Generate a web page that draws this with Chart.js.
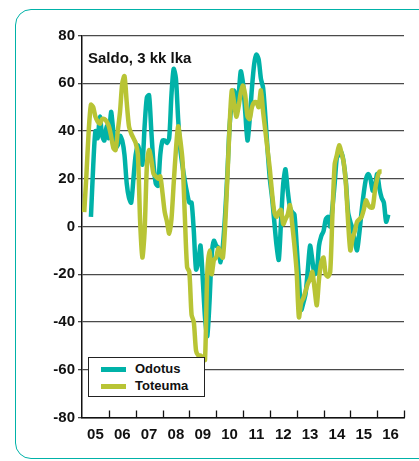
<!DOCTYPE html>
<html lang="fi">
<head>
<meta charset="UTF-8">
<title>Saldo, 3 kk lka</title>
<script src="https://cdn.jsdelivr.net/npm/chart.js"></script>
<style>
    html, body { margin: 0; padding: 0; background: #fff; }
    body { width: 419px; height: 461px; position: relative; overflow: hidden; font-family: "Liberation Sans", Arial, sans-serif; }
    .frame { position: absolute; left: 15px; top: 9px; width: 440px; height: 450px; border: 1.5px solid #00b2a8; border-radius: 16px; box-sizing: border-box; }
    #chart { position: absolute; left: 0; top: 0; }
    .title { position: absolute; left: 88px; top: 50px; font-weight: bold; font-size: 15px; line-height: 15px; color: #111; }
    .legend { position: absolute; left: 88px; top: 357px; width: 117px; height: 40px; border: 1px solid #222; background: #fff; box-sizing: border-box; }
    .legend .row { position: absolute; left: 0; height: 16px; width: 100%; }
    .legend .swatch { position: absolute; left: 12px; top: 6px; width: 25px; height: 5px; }
    .legend .lbl { position: absolute; left: 46px; top: 0; font-weight: bold; font-size: 13px; line-height: 16px; color: #111; }
</style>
</head>
<body>
<div class="frame"></div>
<canvas id="chart" width="419" height="461"></canvas>
<div class="title">Saldo, 3 kk lka</div>
<div class="legend">
    <div class="row" style="top:3px"><div class="swatch" style="background:#00b2a8"></div><div class="lbl">Odotus</div></div>
    <div class="row" style="top:20px"><div class="swatch" style="background:#b8c435"></div><div class="lbl">Toteuma</div></div>
</div>

<script>
    // kuukaudet laskettuna tammikuusta 2005 (0 = 1/2005)
    const yearLabels = ['05', '06', '07', '08', '09', '10', '11', '12', '13', '14', '15', '16'];
    const yTicks = [-80, -60, -40, -20, 0, 20, 40, 60, 80];

    const odotusStart = 4;
    const odotus = [
        4, 25, 40, 37, 46, 38, 36, 42, 37, 48, 40, 33, 34, 38, 36, 30,
        18, 12, 10, 20, 30, 34, 30, 26, 42, 54, 55, 40, 26, 18, 17, 30,
        36, 36, 35, 37, 55, 66, 62, 45, 32, 25, 19, 14, 10, 10, -2, -18,
        -15, -8, -22, -38, -46, -32, -12, -6, -8, -9, -15, -8, 5, 22, 42, 52,
        57, 52, 55, 65, 60, 48, 36, 45, 58, 68, 72, 70, 62, 58, 46, 32,
        20, 12, 2, -8, -14, 2, 18, 24, 15, 8, 6, 5, -8, -22, -35, -32,
        -28, -18, -8, -14, -20, -19, -8, -4, -2, 3, 4, 0, 8, 18, 29, 30,
        31, 27, 19, 6, 2, -1, -6, -10, -3, 6, 14, 20, 22, 20, 15, 17,
        22, 16, 12, 10, 2, 5
    ];

    const toteumaStart = 1;
    const toteuma = [
        6, 22, 40, 51, 50, 46, 44, 43, 45, 45, 44, 42, 38, 33, 32, 40,
        48, 60, 63, 52, 42, 39, 37, 35, 30, 2, -13, -2, 25, 32, 28, 22,
        21, 20, 21, 14, 6, 2, -3, 3, 18, 32, 42, 36, 27, 4, -17, -19,
        -37, -40, -52, -54, -54, -55, -56, -20, -10, -20, -14, -13, -9, -12, -13, 0,
        20, 42, 57, 52, 46, 50, 56, 59, 55, 46, 45, 50, 52, 52, 50, 57,
        48, 40, 32, 24, 14, 6, 4, 6, 7, 1, 3, 5, 9, 1, -8, -19,
        -38, -32, -30, -27, -24, -22, -19, -26, -33, -22, -15, -13, -20, -21, -19, 5,
        26, 30, 34, 31, 27, 18, 2, -10, -5, -2, 2, 3, 4, 7, 11, 9,
        8, 8, 15, 20, 23, 23
    ];

    const toPoints = (start, arr) => arr.map((v, i) => ({ x: start + i, y: v }));

    // vuosien väliset pykälät x-akselille, ylöspäin
    const yearTicks = {
        id: 'yearTicks',
        afterDraw(chart) {
            const x = chart.scales.x, y = chart.scales.y;
            const ctx = chart.ctx;
            const bottom = y.getPixelForValue(-80);
            ctx.save();
            ctx.strokeStyle = '#111';
            ctx.lineWidth = 1.3;
            for (let i = 1; i <= yearLabels.length; i++) {
                const px = Math.round(x.getPixelForValue(i * 12)) + 0.5;
                ctx.beginPath();
                ctx.moveTo(px, bottom);
                ctx.lineTo(px, bottom - 7);
                ctx.stroke();
            }
            ctx.restore();
        }
    };

    new Chart(document.getElementById('chart'), {
        type: 'line',
        data: {
            datasets: [
                {
                    label: 'Odotus',
                    data: toPoints(odotusStart, odotus),
                    borderColor: '#00b2a8',
                    borderWidth: 4.5,
                    pointRadius: 0,
                    tension: 0.25,
                    borderJoinStyle: 'round',
                    order: 2
                },
                {
                    label: 'Toteuma',
                    data: toPoints(toteumaStart, toteuma),
                    borderColor: '#b8c435',
                    borderWidth: 4.5,
                    pointRadius: 0,
                    tension: 0.25,
                    borderJoinStyle: 'round',
                    order: 1
                }
            ]
        },
        options: {
            responsive: false,
            animation: false,
            layout: { padding: { top: 35.5, right: 15, bottom: 0, left: 0 } },
            plugins: { legend: { display: false }, tooltip: { enabled: false } },
            scales: {
                x: {
                    type: 'linear',
                    min: 0,
                    max: 144,
                    afterBuildTicks: s => { s.ticks = yearLabels.map((l, i) => ({ value: 6 + i * 12 })); },
                    afterFit: s => { s.height = 43.5; },
                    grid: { display: false, drawTicks: false },
                    border: { display: true, color: '#111', width: 1.5 },
                    ticks: {
                        autoSkip: false,
                        maxRotation: 0,
                        padding: 8,
                        color: '#111',
                        font: { family: 'Liberation Sans, Arial, sans-serif', size: 15, weight: 'bold' },
                        callback: v => yearLabels[Math.round((v - 6) / 12)]
                    }
                },
                y: {
                    min: -80,
                    max: 80,
                    afterBuildTicks: s => { s.ticks = yTicks.map(v => ({ value: v })); },
                    afterFit: s => { s.width = 82; },
                    grid: { color: '#4a4a4a', lineWidth: 1.3, tickLength: 4 },
                    border: { display: true, color: '#111', width: 1.5 },
                    ticks: {
                        padding: 3,
                        color: '#111',
                        font: { family: 'Liberation Sans, Arial, sans-serif', size: 15, weight: 'bold' }
                    }
                }
            }
        },
        plugins: [yearTicks]
    });
</script>
</body>
</html>
